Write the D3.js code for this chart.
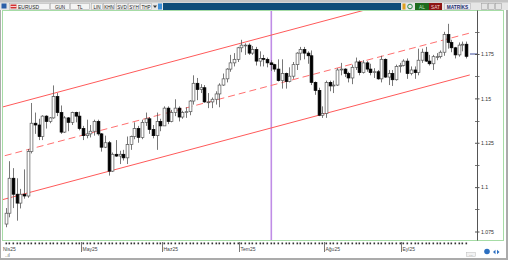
<!DOCTYPE html>
<html><head><meta charset="utf-8">
<script src="https://cdn.jsdelivr.net/npm/d3@7"></script>
<style>
body{margin:0;background:#ababab;overflow:hidden}
svg{display:block;font-family:"Liberation Sans",Arial,sans-serif}
</style>
</head><body>
<svg id="c" width="508" height="260"></svg>
<script>
// ---- data (EURUSD daily, Apr 2 – Sep 24 2025) ----
const opens  = [1.0792,1.0853,1.1050,1.0960,1.0910,1.0960,1.0950,1.1200,1.1360,1.1350,1.1285,1.1400,1.1370,1.1390,1.1510,1.1420,1.1310,1.1390,1.1365,1.1420,1.1400,
 1.1330,1.1290,1.1300,1.1315,1.1370,1.1300,1.1225,1.1250,1.1090,1.1185,1.1175,1.1185,1.1165,1.1240,1.1285,1.1330,1.1280,1.1365,1.1385,1.1325,1.1290,1.1370,
 1.1345,1.1445,1.1370,1.1420,1.1445,1.1395,1.1420,1.1425,1.1485,1.1585,1.1550,1.1560,1.1480,1.1480,1.1495,1.1525,1.1575,1.1610,1.1665,1.1700,1.1720,
 1.1785,1.1800,1.1800,1.1755,1.1775,1.1710,1.1725,1.1720,1.1700,1.1690,1.1665,1.1600,1.1640,1.1595,1.1625,1.1690,1.1755,1.1775,1.1755,1.1740,1.1590,1.1545,1.1405,
 1.1415,1.1590,1.1570,1.1575,1.1660,1.1665,1.1640,1.1615,1.1675,1.1705,1.1645,1.1700,1.1665,1.1645,1.1650,1.1610,1.1720,1.1620,1.1640,1.1605,1.1680,
 1.1685,1.1710,1.1640,1.1660,1.1645,1.1715,1.1760,1.1710,1.1695,1.1735,1.1735,1.1760,1.1860,1.1815,1.1785,1.1745,1.1800,1.1805];
const highs  = [1.0882,1.1146,1.1107,1.1050,1.0990,1.1100,1.1215,1.1474,1.1420,1.1385,1.1405,1.1405,1.1395,1.1573,1.1530,1.1460,1.1400,1.1395,1.1425,1.1425,1.1425,
 1.1345,1.1380,1.1350,1.1380,1.1380,1.1305,1.1290,1.1260,1.1195,1.1265,1.1205,1.1210,1.1285,1.1290,1.1365,1.1345,1.1380,1.1420,1.1395,1.1350,1.1420,1.1385,
 1.1455,1.1455,1.1435,1.1495,1.1455,1.1430,1.1450,1.1490,1.1630,1.1615,1.1580,1.1575,1.1530,1.1505,1.1540,1.1585,1.1640,1.1670,1.1745,1.1755,1.1790,
 1.1830,1.1810,1.1810,1.1795,1.1790,1.1765,1.1745,1.1730,1.1715,1.1695,1.1720,1.1720,1.1645,1.1675,1.1705,1.1760,1.1790,1.1790,1.1765,1.1770,1.1595,1.1560,1.1455,
 1.1600,1.1600,1.1600,1.1670,1.1700,1.1670,1.1650,1.1690,1.1730,1.1715,1.1715,1.1710,1.1695,1.1670,1.1660,1.1740,1.1725,1.1660,1.1660,1.1690,1.1700,
 1.1720,1.1725,1.1680,1.1680,1.1780,1.1780,1.1790,1.1745,1.1745,1.1755,1.1770,1.1875,1.1920,1.1830,1.1790,1.1815,1.1820,1.1820];
const lows   = [1.0774,1.0830,1.0882,1.0811,1.0880,1.0935,1.0940,1.1190,1.1300,1.1265,1.1265,1.1330,1.1360,1.1385,1.1400,1.1300,1.1305,1.1315,1.1350,1.1365,1.1320,
 1.1265,1.1275,1.1280,1.1290,1.1290,1.1200,1.1220,1.1065,1.1085,1.1170,1.1130,1.1150,1.1130,1.1210,1.1270,1.1250,1.1270,1.1345,1.1300,1.1275,1.1210,1.1315,
 1.1345,1.1355,1.1365,1.1400,1.1370,1.1385,1.1390,1.1405,1.1465,1.1490,1.1530,1.1475,1.1445,1.1445,1.1465,1.1450,1.1570,1.1590,1.1650,1.1680,1.1705,
 1.1760,1.1745,1.1745,1.1745,1.1685,1.1680,1.1680,1.1675,1.1655,1.1650,1.1595,1.1555,1.1555,1.1590,1.1610,1.1660,1.1715,1.1720,1.1695,1.1575,1.1520,1.1400,1.1390,
 1.1390,1.1540,1.1530,1.1570,1.1630,1.1620,1.1590,1.1580,1.1660,1.1630,1.1640,1.1650,1.1630,1.1615,1.1605,1.1590,1.1615,1.1575,1.1570,1.1600,1.1645,
 1.1680,1.1610,1.1630,1.1610,1.1630,1.1700,1.1705,1.1685,1.1660,1.1715,1.1725,1.1740,1.1780,1.1760,1.1725,1.1735,1.1765,1.1725];
const closes = [1.0853,1.1050,1.0960,1.0910,1.0960,1.0950,1.1200,1.1360,1.1350,1.1285,1.1400,1.1370,1.1390,1.1510,1.1420,1.1310,1.1390,1.1365,1.1420,1.1400,1.1330,
 1.1290,1.1300,1.1315,1.1370,1.1300,1.1225,1.1250,1.1090,1.1185,1.1175,1.1185,1.1165,1.1240,1.1285,1.1330,1.1280,1.1365,1.1385,1.1325,1.1290,1.1370,1.1345,
 1.1445,1.1370,1.1420,1.1445,1.1395,1.1420,1.1425,1.1485,1.1585,1.1550,1.1560,1.1480,1.1480,1.1495,1.1525,1.1575,1.1610,1.1665,1.1700,1.1720,1.1785,
 1.1800,1.1800,1.1755,1.1775,1.1710,1.1725,1.1720,1.1700,1.1690,1.1665,1.1600,1.1640,1.1595,1.1625,1.1690,1.1755,1.1775,1.1755,1.1740,1.1590,1.1545,1.1405,1.1415,
 1.1590,1.1570,1.1575,1.1660,1.1665,1.1640,1.1615,1.1675,1.1705,1.1645,1.1700,1.1665,1.1645,1.1650,1.1610,1.1720,1.1620,1.1640,1.1605,1.1680,1.1685,
 1.1710,1.1640,1.1660,1.1645,1.1715,1.1760,1.1710,1.1695,1.1735,1.1735,1.1760,1.1860,1.1815,1.1785,1.1745,1.1800,1.1805,1.1737];

const monthStartIdx = [0, 21, 43, 64, 87, 108];
const monthLabels   = ["Nis25","May25","Haz25","Tem25","Ağu25","Eyl25"];
const yTickValues   = [1.075, 1.1, 1.125, 1.15, 1.175];
const yTickLabels   = ["1.075","1.1","1.125","1.15","1.175"];
const yMinorTicks   = [1.0875, 1.1125, 1.1375, 1.1625, 1.1875];
const channelUpper  = [[-0.7, 1.1452], [126, 1.2156]];
const channelMiddle = [[-0.2, 1.1177], [126, 1.1868]];
const channelLower  = [[-0.7, 1.0930], [126, 1.1632]];
const markerIdx     = 72;
const lastPrice     = 1.175;
const tabLabels     = ["GUN","TL","LIN","KHN","SVD","SYH","THP"];

// ---- build ----
const svg = d3.select("#c");
const N = closes.length;
const x = d3.scaleLinear().domain([0, 125]).range([5.5, 466.1]);
const y = d3.scaleLinear().domain([1.075, 1.175]).range([231.5, 54]);

// window panel
svg.append("rect").attr("x",1).attr("y",0).attr("width",505).attr("height",258).attr("fill","#fff");
// toolbar
svg.append("rect").attr("x",0).attr("y",0).attr("width",508).attr("height",10).attr("fill","#e6e6e6");
svg.append("rect").attr("x",0).attr("y",0).attr("width",508).attr("height",2.5).attr("fill","#c4c4c4");
svg.append("rect").attr("x",163).attr("y",3).attr("width",238).attr("height",7).attr("fill","#0e4c79");
// left icons/tabs
svg.append("rect").attr("x",1.5).attr("y",3.5).attr("width",5).attr("height",5).attr("fill","#2a5fa8");
svg.append("rect").attr("x",9.5).attr("y",3.5).attr("width",40).attr("height",6).attr("fill","#f4f4f4").attr("stroke","#aaa").attr("stroke-width",0.5);
svg.append("rect").attr("x",10.5).attr("y",4.5).attr("width",6).attr("height",4).attr("fill","#d23030");
svg.append("line").attr("x1",10.5).attr("x2",16.5).attr("y1",6.5).attr("y2",6.5).attr("stroke","#fff").attr("stroke-width",0.8);
svg.append("text").attr("x",18).attr("y",8.6).attr("font-size",5).attr("fill","#222").text("EURUSD");
const tabX = [50, 70, 91, 103, 116, 128, 140];
const tabW = [20, 20, 12, 12, 12, 12, 12];
tabLabels.forEach((t,i)=>{
  svg.append("rect").attr("x",tabX[i]+0.5).attr("y",3.5).attr("width",tabW[i]-1).attr("height",6).attr("fill","#f4f4f4").attr("stroke","#aaa").attr("stroke-width",0.5);
  svg.append("text").attr("x",tabX[i]+tabW[i]/2).attr("y",8.6).attr("text-anchor","middle").attr("font-size",4.6).attr("fill","#222").text(t);
});
svg.append("path").attr("d","M153,5.5 L157,5.5 L155,8 Z").attr("fill","#333");
svg.append("rect").attr("x",158).attr("y",3.5).attr("width",4).attr("height",6).attr("fill","#3d8fd8");
// right buttons
svg.append("rect").attr("x",402.5).attr("y",3.5).attr("width",3).attr("height",6).attr("fill","#e0a020");
svg.append("circle").attr("cx",410).attr("cy",6.5).attr("r",2.3).attr("fill","none").attr("stroke","#2a8a4a").attr("stroke-width",1);
svg.append("rect").attr("x",415).attr("y",3).attr("width",14).attr("height",7).attr("fill","#1d6a1d");
svg.append("text").attr("x",422).attr("y",8.5).attr("text-anchor","middle").attr("font-size",4.8).attr("fill","#bfe8bf").text("AL");
svg.append("rect").attr("x",429).attr("y",3).attr("width",13).attr("height",7).attr("fill","#8c1414");
svg.append("text").attr("x",435.5).attr("y",8.5).attr("text-anchor","middle").attr("font-size",4.8).attr("fill","#f0d0d0").text("SAT");
svg.append("rect").attr("x",444.5).attr("y",3.5).attr("width",26).attr("height",6).attr("fill","#ececf4").attr("stroke","#aaa").attr("stroke-width",0.5);
svg.append("text").attr("x",457.5).attr("y",8.5).attr("text-anchor","middle").attr("font-size",4.8).attr("font-weight","bold").attr("fill","#1d2a6a").text("MATRİKS");
[481,488,495].forEach(bx=>{
  svg.append("rect").attr("x",bx+0.5).attr("y",3.5).attr("width",6).attr("height",6).attr("fill","#e4e4e4").attr("stroke","#9a9a9a").attr("stroke-width",0.5);
});

// plot frame
svg.append("rect").attr("x",2.5).attr("y",10.5).attr("width",501).attr("height",230).attr("fill","#fff").attr("stroke","#a6dca6").attr("stroke-width",1);

const defs = svg.append("defs");
defs.append("clipPath").attr("id","plot").append("rect").attr("x",3).attr("y",11).attr("width",474).attr("height",229);
const plot = svg.append("g").attr("clip-path","url(#plot)");

// marker vertical line
plot.append("rect").attr("x",Math.round(x(markerIdx))-0.5).attr("y",11).attr("width",1.6).attr("height",229).attr("fill","#b070e0").attr("opacity",0.8);

// channel lines
const line = d3.line().x(d=>x(d[0])).y(d=>y(d[1]));
plot.append("path").attr("d",line(channelUpper)).attr("stroke","#ff5a5a").attr("stroke-width",1).attr("fill","none");
plot.append("path").attr("d",line(channelLower)).attr("stroke","#ff5a5a").attr("stroke-width",1).attr("fill","none");
plot.append("path").attr("d",line(channelMiddle)).attr("stroke","#ff7070").attr("stroke-width",1).attr("stroke-dasharray","7,4").attr("fill","none");

// candles
const idx = d3.range(N);
const bw = 2.8;
const cg = plot.append("g");
cg.selectAll("line.w").data(idx).join("line")
  .attr("x1",i=>Math.round(x(i))+0.5).attr("x2",i=>Math.round(x(i))+0.5)
  .attr("y1",i=>y(highs[i])).attr("y2",i=>y(lows[i]))
  .attr("stroke","#555").attr("stroke-width",0.8);
cg.selectAll("rect.b").data(idx).join("rect")
  .attr("x",i=>Math.round(x(i))+0.5-bw/2)
  .attr("y",i=>y(Math.max(opens[i],closes[i])))
  .attr("width",bw)
  .attr("height",i=>Math.max(0.8,Math.abs(y(opens[i])-y(closes[i]))))
  .attr("fill",i=>closes[i]>=opens[i]?"#fff":"#000")
  .attr("stroke",i=>closes[i]>=opens[i]?"#555":"#000")
  .attr("stroke-width",0.7);

// current price marker
svg.append("line").attr("x1",470).attr("x2",477).attr("y1",y(lastPrice)).attr("y2",y(lastPrice)).attr("stroke","#3a4a9a").attr("stroke-width",1);

// y axis
const yAxis = d3.axisRight(y).tickValues(yTickValues).tickSize(2.5).tickPadding(1.5)
  .tickFormat((d,i)=>yTickLabels[i]);
const ya = svg.append("g").attr("transform","translate(477,0)").call(yAxis);
ya.select(".domain").attr("d","M0.5,10.5V240.5").attr("stroke","#555");
ya.selectAll("text").attr("font-size",5.2).attr("fill","#333").attr("font-family","Liberation Sans, Arial");
ya.selectAll(".tick line").attr("x1",-2).attr("stroke","#555");
svg.append("g").selectAll("line").data(yMinorTicks).join("line")
  .attr("x1",475).attr("x2",479.5).attr("y1",d=>Math.round(y(d))+0.5).attr("y2",d=>Math.round(y(d))+0.5).attr("stroke","#555").attr("stroke-width",0.8);

// bottom date axis
svg.append("g").selectAll("rect").data(idx).join("rect")
  .attr("x",i=>Math.round(x(i))-0.5).attr("y",242.5).attr("width",1.6).attr("height",1.8).attr("fill","#333");
svg.append("g").selectAll("line").data(monthStartIdx.slice(1)).join("line")
  .attr("x1",i=>Math.round(x(i))-1.5).attr("x2",i=>Math.round(x(i))-1.5)
  .attr("y1",242).attr("y2",252).attr("stroke","#555").attr("stroke-width",0.8);
svg.append("g").selectAll("text").data(monthStartIdx).join("text")
  .attr("x",(i,k)=>k===0?3:Math.round(x(i))-0.5).attr("y",251)
  .attr("font-size",5).attr("fill","#444").text((i,k)=>monthLabels[k]);

// bottom decorations
svg.append("text").attr("x",5).attr("y",257).attr("font-size",4.5).attr("fill","#555").text("..ıl");
svg.append("rect").attr("x",466.5).attr("y",252.5).attr("width",9).attr("height",4).attr("fill","#f2f2f2").attr("stroke","#bbb").attr("stroke-width",0.5);
svg.append("text").attr("x",471).attr("y",256).attr("text-anchor","middle").attr("font-size",4).attr("fill","#555").text("...");
svg.append("circle").attr("cx",487).attr("cy",251.5).attr("r",2.8).attr("fill","#2c6fc0");
svg.append("path").attr("d","M493,252 L495.5,249.8 L495.5,254.2 Z M499.5,252 L497,249.8 L497,254.2 Z").attr("fill","#2c6fc0");
</script>
</body></html>
